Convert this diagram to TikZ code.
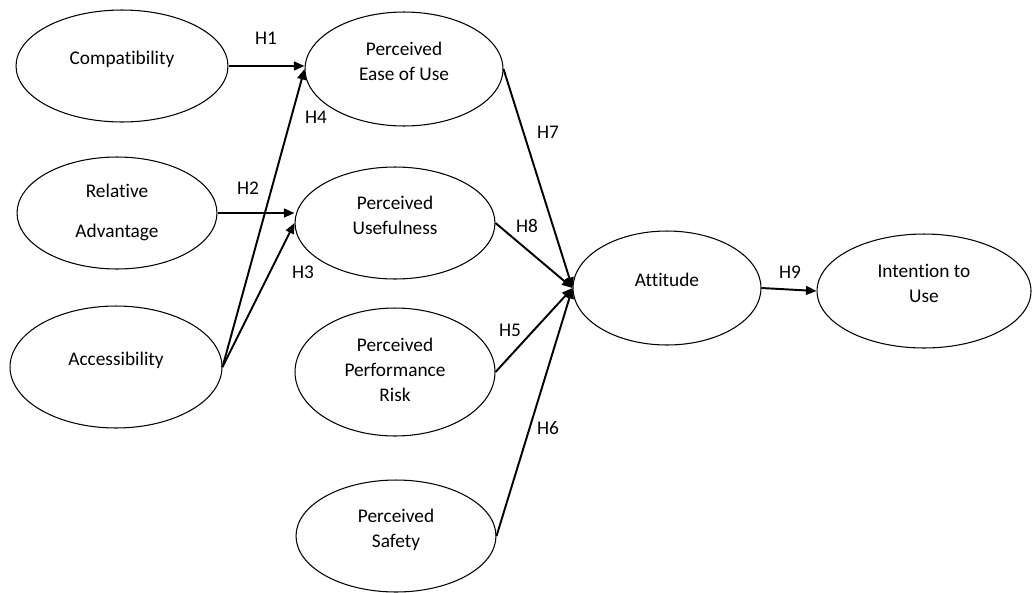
\documentclass[tikz,border=0pt]{standalone}
\usepackage{fontspec}
\setmainfont{Carlito}[Ligatures=NoCommon]
\usetikzlibrary{shapes.geometric,arrows.meta}

\begin{document}
\begin{tikzpicture}[x=0.02cm,y=-0.02cm,
		font=\fontsize{11}{14.5}\selectfont,
		construct/.style={ellipse,draw,line width=0.6pt,inner sep=0pt,align=center,text depth=9pt},
		hyp/.style={line width=1.1pt,-{Triangle[length=6pt,width=5pt]}}]
	\useasboundingbox (0,0) rectangle (1033,592);
	% Constructs, left column
	\node[construct,minimum width=4.24cm,minimum height=2.24cm] (comp) at (122,66) {Compatibility};
	\node[construct,minimum width=4cm,minimum height=2.24cm,text depth=2.5pt] (ra) at (117,213) {Relative\\[8.5pt]Advantage};
	\node[construct,minimum width=4.24cm,minimum height=2.44cm] (acc) at (116,367) {Accessibility};
	% Constructs, middle column
	\node[construct,minimum width=3.96cm,minimum height=2.28cm] (peou) at (404,69) {Perceived\\Ease of Use};
	\node[construct,minimum width=4cm,minimum height=2.24cm] (pu) at (395,223) {Perceived\\Usefulness};
	\node[construct,minimum width=4cm,minimum height=2.56cm,text depth=2.5pt] (ppr) at (395,372) {Perceived\\Performance\\Risk};
	\node[construct,minimum width=4cm,minimum height=2.24cm] (ps) at (396,536) {Perceived\\Safety};
	% Outcomes
	\node[construct,minimum width=3.76cm,minimum height=2.28cm] (att) at (667,288) {Attitude};
	\node[construct,minimum width=4.28cm,minimum height=2.28cm] (itu) at (924,291) {Intention to\\Use};

	% Hypotheses
	\draw[hyp] (comp.east) -- (comp.east -| peou.west);
	\draw[hyp] (ra.east) -- (ra.east -| pu.west);
	\draw[hyp] (acc.east) -- (pu.west);
	\draw[hyp] (acc.east) -- (peou.west);
	\draw[hyp] (peou.east) -- (att.west);
	\draw[hyp] (pu.east) -- (att.west);
	\draw[hyp] (ppr.east) -- (att.west);
	\draw[hyp] (ps.east) -- (att.west);
	\draw[hyp] (att.east) -- (itu.west);

	% Labels
	\node (h1) at (266,38) {H1};
	\node (h2) at (248,188) {H2};
	\node (h3) at (303,272) {H3};
	\node (h4) at (316,117) {H4};
	\node (h5) at (510,330) {H5};
	\node (h6) at (548,428) {H6};
	\node (h7) at (548,132) {H7};
	\node (h8) at (527,226) {H8};
	\node (h9) at (790,272) {H9};
\end{tikzpicture}
\end{document}
